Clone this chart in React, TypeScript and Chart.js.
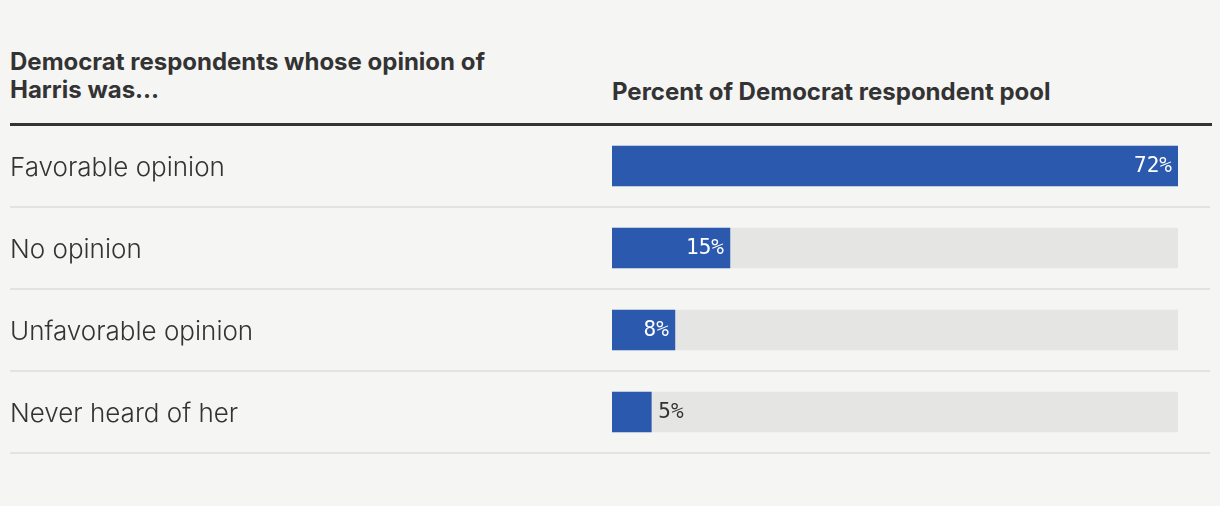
import React, { useEffect, useRef } from "react";
import { Chart, registerables } from "chart.js";

Chart.register(...registerables);

const categories = ["Favorable opinion", "No opinion", "Unfavorable opinion", "Never heard of her"];
const values = [72, 15, 8, 5];
const valueLabels = ["72%", "15%", "8%", "5%"];
const trackMax = 72;

const headerLeft = ["Democrat respondents whose opinion of", "Harris was…"];
const headerRight = "Percent of Democrat respondent pool";

const BG = "#f5f5f3";
const BAR = "#2b59ae";
const TRACK = "#e5e5e3";
const TEXT = "#333333";

const separatorPlugin = {
  id: "separators",
  beforeDatasetsDraw(chart: any) {
    const { ctx, chartArea } = chart;
    const n = categories.length;
    const band = (chartArea.bottom - chartArea.top) / n;
    ctx.save();
    ctx.strokeStyle = "#e3e3e1";
    ctx.lineWidth = 2;
    for (let i = 1; i <= n; i++) {
      const y = chartArea.top + i * band;
      ctx.beginPath();
      ctx.moveTo(10, y);
      ctx.lineTo(1210, y);
      ctx.stroke();
    }
    ctx.restore();
  },
};

const valueLabelPlugin = {
  id: "valueLabels",
  afterDatasetsDraw(chart: any) {
    const { ctx } = chart;
    const meta = chart.getDatasetMeta(0);
    ctx.save();
    ctx.font = '21px "DejaVu Sans Mono", monospace';
    ctx.textBaseline = "middle";
    meta.data.forEach((bar: any, i: number) => {
      const w = bar.x - bar.base;
      const label = valueLabels[i];
      if (w > 50) {
        ctx.fillStyle = "#ffffff";
        ctx.textAlign = "right";
        ctx.fillText(label, bar.x - 6, bar.y + 1);
      } else {
        ctx.fillStyle = TEXT;
        ctx.textAlign = "left";
        ctx.fillText(label, bar.x + 7, bar.y + 1);
      }
    });
    ctx.restore();
  },
};

export default function App() {
  const canvasRef = useRef<HTMLCanvasElement | null>(null);

  useEffect(() => {
    if (!canvasRef.current) return;
    const chart = new Chart(canvasRef.current, {
      type: "bar",
      data: {
        labels: categories,
        datasets: [
          {
            data: values,
            backgroundColor: BAR,
            barThickness: 40,
            grouped: false,
            order: 0,
          } as any,
          {
            data: categories.map(() => trackMax),
            backgroundColor: TRACK,
            barThickness: 40,
            grouped: false,
            order: 1,
          } as any,
        ],
      },
      options: {
        indexAxis: "y",
        responsive: false,
        maintainAspectRatio: false,
        animation: false,
        layout: { padding: { top: 125, bottom: 53, left: 10, right: 42 } },
        scales: {
          x: { display: false, min: 0, max: trackMax },
          y: {
            position: "left",
            grid: { display: false },
            border: { display: false },
            ticks: {
              crossAlign: "far",
              color: TEXT,
              padding: 0,
              labelOffset: 2,
              font: { family: "Inter", size: 26, weight: "300" as any },
            },
            afterFit: (scale: any) => {
              scale.width = 602;
            },
          },
        },
        plugins: {
          legend: { display: false },
          tooltip: { enabled: false },
        },
      },
      plugins: [separatorPlugin, valueLabelPlugin],
    });
    return () => chart.destroy();
  }, []);

  const headStyle: React.CSSProperties = {
    position: "absolute",
    fontFamily: "Inter, sans-serif",
    fontWeight: 700,
    fontSize: 24,
    lineHeight: "28px",
    color: TEXT,
    whiteSpace: "nowrap",
  };

  return (
    <div style={{ position: "fixed", inset: 0, background: BG }}>
      <div style={{ position: "absolute", left: 0, top: 0, width: 1220, height: 506 }}>
        <div style={{ ...headStyle, left: 10, top: 48 }}>
          {headerLeft[0]}
          <br />
          {headerLeft[1]}
        </div>
        <div style={{ ...headStyle, left: 612, top: 78 }}>{headerRight}</div>
        <div
          style={{
            position: "absolute",
            left: 10,
            top: 123,
            width: 1202,
            height: 3,
            background: TEXT,
          }}
        />
        <canvas
          ref={canvasRef}
          width={1220}
          height={506}
          style={{ position: "absolute", left: 0, top: 0, width: 1220, height: 506 }}
        />
      </div>
    </div>
  );
}
